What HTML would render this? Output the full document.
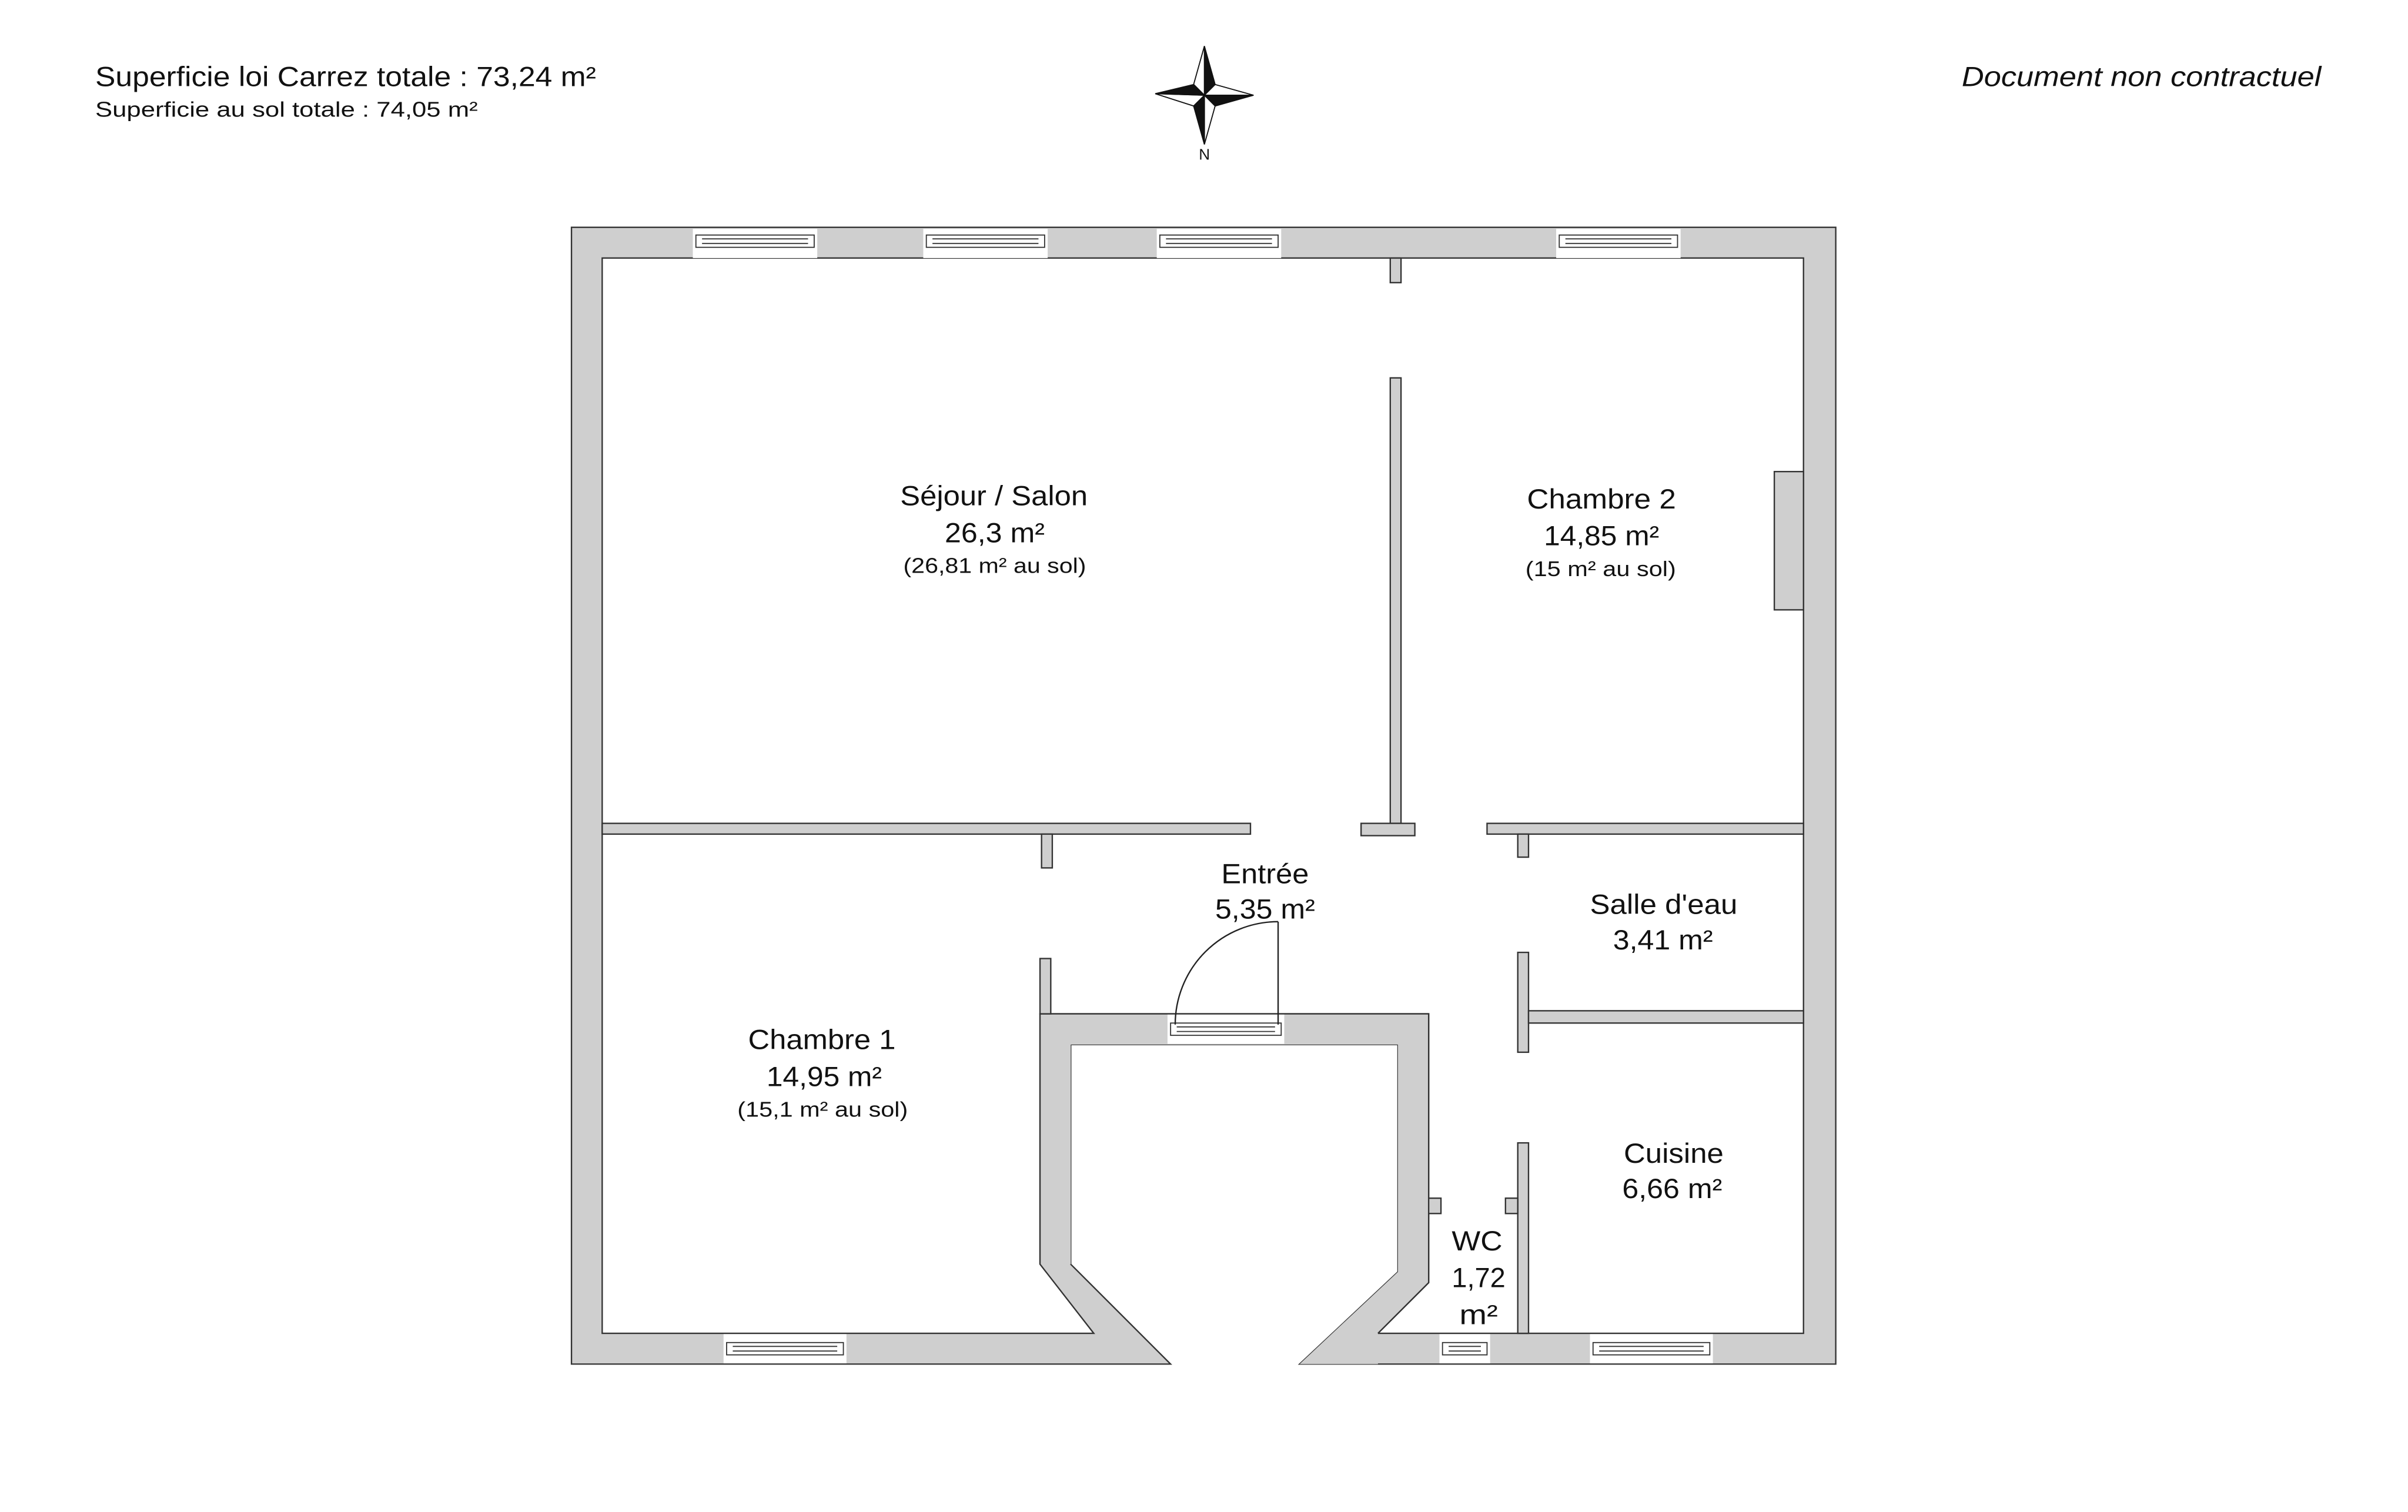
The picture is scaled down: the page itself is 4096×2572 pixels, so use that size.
<!DOCTYPE html>
<html><head><meta charset="utf-8"><style>
html,body{margin:0;padding:0;background:#fff;}
svg{display:block;}
text{font-family:"Liberation Sans Narrow","Liberation Sans",sans-serif;fill:#111;}
</style></head><body>
<svg width="4096" height="2572" viewBox="0 0 1567.5 984.3" preserveAspectRatio="none" xmlns="http://www.w3.org/2000/svg">
<!-- header -->
<text x="62" y="56" font-size="18" textLength="326" lengthAdjust="spacingAndGlyphs">Superficie loi Carrez totale :  73,24 m²</text>
<text x="62" y="76" font-size="14" textLength="249" lengthAdjust="spacingAndGlyphs">Superficie au sol totale :  74,05 m²</text>
<text x="1277" y="56" font-size="18" font-style="italic" textLength="234" lengthAdjust="spacingAndGlyphs">Document non contractuel</text>
<!-- compass -->
<g stroke="#111" stroke-width="0.7" stroke-linejoin="miter">
<polygon points="784,30 791,55 784,62" fill="#111"/>
<polygon points="784,30 777,55 784,62" fill="#fff"/>
<polygon points="816,62 791,55 784,62" fill="#fff"/>
<polygon points="816,62 791,69 784,62" fill="#111"/>
<polygon points="784,94 791,69 784,62" fill="#fff"/>
<polygon points="784,94 777,69 784,62" fill="#111"/>
<polygon points="752,61 777,69 784,62" fill="#fff"/>
<polygon points="752,61 777,55 784,62" fill="#111"/>
</g>
<text x="784" y="104" font-size="10" text-anchor="middle" font-family="Liberation Sans">N</text>

<!-- walls -->
<g stroke="#333" stroke-width="0.9" stroke-linejoin="miter">
<polygon fill="#cfcfcf" points="372,148 1195,148 1195,888 846,888 910,828 910,680 697,680 697,823 762,888 372,888"/>
<polygon fill="#fff" points="392,168 1174,168 1174,868 897,868 930,835 930,660 677,660 677,823 712,868 392,868"/>
<polygon fill="#cfcfcf" stroke="none" points="677,660 930,660 930,835 897,868 897,888 846,888 910,828 910,680 697,680 697,823 677,823"/>
<polyline fill="none" points="677,823 677,660 930,660 930,835 897,868"/>
<g fill="#cfcfcf">
<rect x="392" y="536" width="422" height="7"/>
<rect x="678" y="543" width="7" height="22"/>
<rect x="677" y="624" width="7" height="36"/>
<rect x="905" y="246" width="7" height="290"/>
<rect x="886" y="536" width="35" height="8"/>
<rect x="905" y="168" width="7" height="16"/>
<rect x="968" y="536" width="206" height="7"/>
<rect x="988" y="543" width="7" height="15"/>
<rect x="988" y="620" width="7" height="65"/>
<rect x="995" y="658" width="179" height="8"/>
<rect x="988" y="744" width="7" height="124"/>
<rect x="930" y="780" width="8" height="10"/>
<rect x="980" y="780" width="8" height="10"/>
<rect x="1155" y="307" width="19" height="90"/>
</g>
</g>
<!-- windows -->
<g>
<g fill="#fff" stroke="none">
<rect x="451" y="149" width="81" height="19"/>
<rect x="601" y="149" width="81" height="19"/>
<rect x="753" y="149" width="81" height="19"/>
<rect x="1013" y="149" width="81" height="19"/>
<rect x="471" y="868.5" width="80" height="19"/>
<rect x="937" y="868.5" width="33" height="19"/>
<rect x="1035" y="868.5" width="80" height="19"/>
<rect x="760" y="660.5" width="76" height="19"/>
</g>
<g fill="#fff" stroke="#333" stroke-width="0.7">
<rect x="453" y="153" width="77" height="8"/><line x1="457" y1="155.5" x2="526" y2="155.5"/><line x1="457" y1="158.5" x2="526" y2="158.5"/>
<rect x="603" y="153" width="77" height="8"/><line x1="607" y1="155.5" x2="676" y2="155.5"/><line x1="607" y1="158.5" x2="676" y2="158.5"/>
<rect x="755" y="153" width="77" height="8"/><line x1="759" y1="155.5" x2="828" y2="155.5"/><line x1="759" y1="158.5" x2="828" y2="158.5"/>
<rect x="1015" y="153" width="77" height="8"/><line x1="1019" y1="155.5" x2="1088" y2="155.5"/><line x1="1019" y1="158.5" x2="1088" y2="158.5"/>
<rect x="473" y="874" width="76" height="8"/><line x1="477" y1="876.5" x2="545" y2="876.5"/><line x1="477" y1="879.5" x2="545" y2="879.5"/>
<rect x="939" y="874" width="29" height="8"/><line x1="943" y1="876.5" x2="964" y2="876.5"/><line x1="943" y1="879.5" x2="964" y2="879.5"/>
<rect x="1037" y="874" width="76" height="8"/><line x1="1041" y1="876.5" x2="1109" y2="876.5"/><line x1="1041" y1="879.5" x2="1109" y2="879.5"/>
<rect x="762" y="666" width="72" height="8"/><line x1="766" y1="668.5" x2="830" y2="668.5"/><line x1="766" y1="671.5" x2="830" y2="671.5"/>
</g>
</g>
<!-- door -->
<g fill="none" stroke="#222" stroke-width="0.9">
<line x1="832" y1="600" x2="832" y2="667"/>
<path d="M832,600 A67,67 0 0 0 765,667"/>
</g>
<!-- labels -->
<g text-anchor="start">
<text x="586" y="329" font-size="18" textLength="122" lengthAdjust="spacingAndGlyphs">Séjour / Salon</text>
<text x="615" y="353" font-size="18" textLength="65" lengthAdjust="spacingAndGlyphs">26,3 m²</text>
<text x="588" y="373" font-size="14" textLength="119" lengthAdjust="spacingAndGlyphs">(26,81 m² au sol)</text>
<text x="994" y="331" font-size="18" textLength="97" lengthAdjust="spacingAndGlyphs">Chambre 2</text>
<text x="1005" y="355" font-size="18" textLength="75" lengthAdjust="spacingAndGlyphs">14,85 m²</text>
<text x="993" y="375" font-size="14" textLength="98" lengthAdjust="spacingAndGlyphs">(15 m² au sol)</text>
<text x="795" y="575" font-size="18" textLength="57" lengthAdjust="spacingAndGlyphs">Entrée</text>
<text x="791" y="598" font-size="18" textLength="65" lengthAdjust="spacingAndGlyphs">5,35 m²</text>
<text x="1035" y="595" font-size="18" textLength="96" lengthAdjust="spacingAndGlyphs">Salle d'eau</text>
<text x="1050" y="618" font-size="18" textLength="65" lengthAdjust="spacingAndGlyphs">3,41 m²</text>
<text x="487" y="683" font-size="18" textLength="96" lengthAdjust="spacingAndGlyphs">Chambre 1</text>
<text x="499" y="707" font-size="18" textLength="75" lengthAdjust="spacingAndGlyphs">14,95 m²</text>
<text x="480" y="727" font-size="14" textLength="111" lengthAdjust="spacingAndGlyphs">(15,1 m² au sol)</text>
<text x="1057" y="757" font-size="18" textLength="65" lengthAdjust="spacingAndGlyphs">Cuisine</text>
<text x="1056" y="780" font-size="18" textLength="65" lengthAdjust="spacingAndGlyphs">6,66 m²</text>
<text x="945" y="814" font-size="18" textLength="33" lengthAdjust="spacingAndGlyphs">WC</text>
<text x="945" y="838" font-size="18" textLength="35" lengthAdjust="spacingAndGlyphs">1,72</text>
<text x="950" y="862" font-size="18" textLength="25" lengthAdjust="spacingAndGlyphs">m²</text>
</g>
</svg>
</body></html>
